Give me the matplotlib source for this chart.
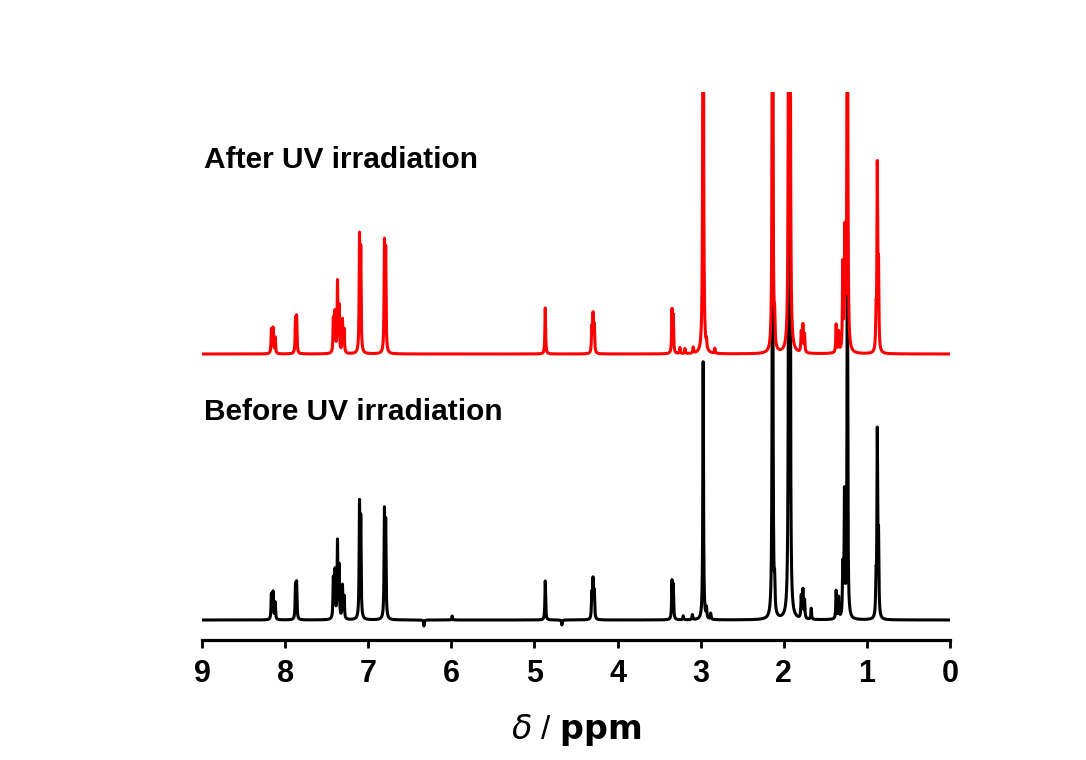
import numpy as np
import matplotlib
matplotlib.use("Agg")
import matplotlib.pyplot as plt

# Peak lists: shift (ppm) and height (px above baseline).
# Heights of 600 are peaks that run off the top of the frame.
red_ppm = [8.165, 8.145, 8.12, 7.875, 7.862, 7.42, 7.40, 7.37, 7.35, 7.31, 7.29,
           7.105, 7.09, 6.805, 6.79, 4.87, 4.31, 4.295, 4.28, 3.345, 3.33,
           3.25, 3.19, 3.09, 2.97, 2.93, 2.83, 2.135, 2.11, 1.94, 1.925,
           1.79, 1.77, 1.75, 1.37, 1.34, 1.29, 1.265, 1.235, 0.89, 0.875, 0.86]
red_height = [24, 25, 16, 33, 35, 34, 40, 70, 45, 33, 23,
              112, 98, 106, 98, 46, 25, 37, 27, 42, 36,
              6, 5, 6, 600, 8, 5, 600, 26, 600, 600,
              20, 27, 18, 28, 20, 85, 112, 600, 33, 182, 80]

black_ppm = [8.165, 8.145, 8.12, 7.875, 7.862, 7.42, 7.40, 7.37, 7.35, 7.31, 7.29,
             7.105, 7.09, 6.805, 6.79, 6.33, 5.99, 4.87, 4.67, 4.31, 4.295, 4.28,
             3.345, 3.33, 3.21, 3.10, 2.97, 2.93, 2.88, 2.135, 2.11, 1.94, 1.925,
             1.79, 1.77, 1.75, 1.67, 1.37, 1.34, 1.29, 1.27, 1.235, 0.89, 0.875, 0.86]
black_height = [25, 27, 17, 33, 35, 40, 47, 76, 51, 33, 22,
                111, 95, 104, 92, -6, 4, 39, -5, 25, 38, 27,
                37, 33, 4, 5, 258, 10, 6, 600, 26, 600, 600,
                22, 28, 18, 11, 28, 21, 50, 122, 400, 33, 182, 75]

red_offset = 286
black_offset = 20
hwhm = 0.005

x = np.linspace(9, 0, 18001)


def spectrum(ppm, height):
    y = np.zeros_like(x)
    for p, h in zip(ppm, height):
        y += h * hwhm ** 2 / ((x - p) ** 2 + hwhm ** 2)
    return y


fig = plt.figure(figsize=(10.86, 7.6), dpi=100)
ax = fig.add_axes([202 / 1086, 120 / 760, 748 / 1086, 548 / 760])

ax.plot(x, spectrum(black_ppm, black_height) + black_offset, color="black", lw=2.2, zorder=2)
ax.plot(x, spectrum(red_ppm, red_height) + red_offset, color="red", lw=2.2, zorder=3)

ax.set_xlim(9, 0)
ax.set_ylim(0, 548)
for side in ("left", "right", "top"):
    ax.spines[side].set_visible(False)
ax.spines["bottom"].set_linewidth(2.3)
ax.set_yticks([])
ax.set_xticks(range(10))
ax.tick_params(axis="x", direction="out", length=6, width=2, pad=8)
for lab in ax.get_xticklabels():
    lab.set_fontfamily("Liberation Sans")
    lab.set_fontweight("bold")
    lab.set_fontsize(22)

plt.rcParams["mathtext.fontset"] = "custom"
plt.rcParams["mathtext.it"] = "Liberation Serif:italic"
plt.rcParams["mathtext.bf"] = "Liberation Sans:bold"
plt.rcParams["mathtext.rm"] = "Liberation Sans"
ax.set_xlabel(r"$\mathit{\delta}$ / $\mathbf{ppm}$", fontsize=24,
              fontfamily="Liberation Sans", labelpad=16)

ax.text(8.98, 480, "After UV irradiation", fontsize=21.5, fontweight="bold",
        fontfamily="Liberation Sans", va="center", ha="left")
ax.text(8.98, 228, "Before UV irradiation", fontsize=21.5, fontweight="bold",
        fontfamily="Liberation Sans", va="center", ha="left")

fig.savefig("out.png", dpi=100)
